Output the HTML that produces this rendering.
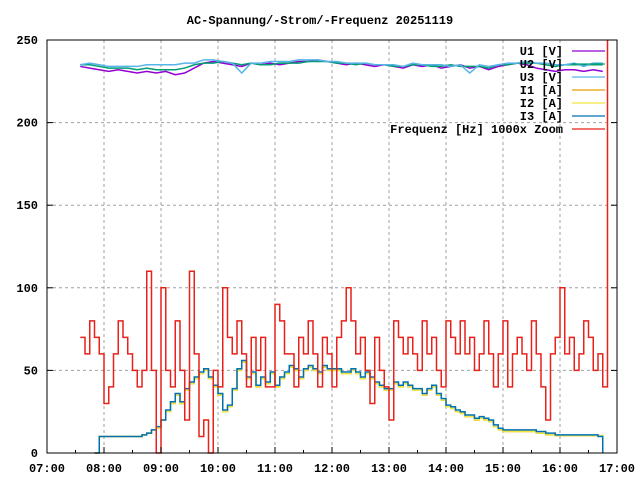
<!DOCTYPE html>
<html><head><meta charset="utf-8"><style>
html,body{margin:0;padding:0;background:#fff}
svg text{font-family:"Liberation Mono",monospace;font-size:12px;font-weight:bold;fill:#000}
</style></head><body>
<svg id="chart" width="640" height="480" viewBox="0 0 640 480">
<rect width="640" height="480" fill="#fff"/>
<text x="320" y="24" text-anchor="middle">AC-Spannung/-Strom/-Frequenz 20251119</text>
<g id="grid"></g><g id="series"></g><g id="axes"></g><g id="legend"></g>
</svg>
<script>
const xTickLabels=["07:00","08:00","09:00","10:00","11:00","12:00","13:00","14:00","15:00","16:00","17:00"];
const yTickLabels=[0,50,100,150,200,250];
// frequency (x1000 zoom), 5-minute steps starting 07:35
const freqStart=7*60+35;
const freqValues=[70,60,80,70,60,30,40,60,80,70,60,50,40,50,110,50,0,100,50,40,80,50,20,110,60,10,20,0,50,40,100,70,60,80,60,40,70,50,70,40,40,90,80,60,60,40,70,60,80,60,40,70,60,40,70,80,100,80,60,70,50,30,70,50,40,20,80,70,60,70,60,50,80,60,70,50,40,80,70,60,80,60,70,50,60,80,60,40,60,80,40,60,70,60,50,80,60,40,20,60,70,100,60,70,50,60,80,70,50,60,40,250];
// currents, 5-minute steps starting 07:50
const curStart=7*60+50;
const i1Values=[0,10,10,10,10,10,10,10,10,10,11,12,14,15,20,25,30,35,30,38,42,45,48,50,45,40,35,25,28,38,50,55,45,48,40,45,42,48,40,45,48,52,50,45,50,52,50,48,52,50,50,50,48,48,50,48,45,48,45,42,40,38,38,42,40,42,40,38,38,35,38,40,35,32,28,27,25,24,22,22,20,21,20,19,16,14,13,13,13,13,13,13,13,12,12,11,11,10.5,10.5,10.5,10.5,10.5,10.5,10.5,10.5,10.5,10.5,0];
const i2Values=i1Values.map(v=>v);
const i3Values=[0,10,10,10,10,10,10,10,10,10,11,12,14,16,20,26,31,36,31,39,43,46,49,51,46,41,36,26,29,39,51,56,46,49,41,46,43,49,41,46,49,53,51,46,51,53,51,49,53,51,51,51,49,49,51,49,46,49,46,43,41,39,39,43,41,43,41,39,39,36,39,41,36,33,29,28,26,25,23,23,21,22,21,20,17,15,14,14,14,14,14,14,14,13,13,12,12,11,11,11,11,11,11,11,11,11,10,0];
// voltages, 10-minute steps starting 07:35
const uStart=7*60+35;
const u1Values=[234,233,232,231,232,231,230,231,230,231,229,230,233,236,237,236,235,234,236,235,236,235,236,237,237,238,237,236,235,236,235,234,235,234,233,235,234,235,233,234,235,233,234,232,234,235,236,235,233,232,231,232,232,231,232,231];
const u2Values=[235,235,234,233,233,233,232,233,232,232,232,233,235,236,236,237,236,235,236,235,235,236,236,236,237,237,237,236,236,235,236,235,235,234,234,235,235,234,234,235,234,234,234,233,235,235,236,236,236,235,234,235,235,235,235,235];
const u3Values=[235,236,235,234,234,234,234,235,235,235,235,236,236,238,238,237,236,230,236,236,237,237,237,238,238,238,237,237,236,236,236,235,235,235,234,236,235,235,235,234,235,230,235,234,235,236,236,237,236,236,235,235,236,234,236,236];

const X0=47,X1=617,Y0=453,Y1=40;
const xMin=7*60,xMax=17*60,yMax=250;
const sx=m=>X0+(m-xMin)/(xMax-xMin)*(X1-X0);
const sy=v=>Y0-v/yMax*(Y0-Y1);
const NS="http://www.w3.org/2000/svg";
function mk(tag,parent){const e=document.createElementNS(NS,tag);parent.appendChild(e);return e;}
const grid=document.getElementById('grid'),axes=document.getElementById('axes'),series=document.getElementById('series'),legend=document.getElementById('legend');

xTickLabels.forEach((t,i)=>{
  const m=xMin+i*60,x=sx(m);
  if(i>0&&i<xTickLabels.length-1){
    const g=mk('line',grid);g.setAttribute('x1',x);g.setAttribute('x2',x);g.setAttribute('y1',Y1);g.setAttribute('y2',Y0);
    g.setAttribute('stroke','#a0a0a0');g.setAttribute('stroke-dasharray','3,3');
    
    
  }
  const tk=mk('line',axes);tk.setAttribute('x1',x);tk.setAttribute('x2',x);tk.setAttribute('y1',Y0);tk.setAttribute('y2',Y0-6);tk.setAttribute('stroke','#000');
  
  
  const mt=mk('line',axes);const xm=sx(m+30);
  if(i<xTickLabels.length-1){mt.setAttribute('x1',xm);mt.setAttribute('x2',xm);mt.setAttribute('y1',Y0);mt.setAttribute('y2',Y0-3);mt.setAttribute('stroke','#000');}
  
  
  const tx=mk('text',axes);tx.setAttribute('x',x);tx.setAttribute('y',472);tx.setAttribute('text-anchor','middle');tx.textContent=t;
  
  
});
yTickLabels.forEach(v=>{
  const y=sy(v);
  if(v>0&&v<yMax){
    const g=mk('line',grid);g.setAttribute('x1',X0);g.setAttribute('x2',X1);g.setAttribute('y1',y);g.setAttribute('y2',y);
    g.setAttribute('stroke','#a0a0a0');g.setAttribute('stroke-dasharray','3,3');
    
    
  }
  const tx=mk('text',axes);tx.setAttribute('x',38);tx.setAttribute('y',y+4);tx.setAttribute('text-anchor','end');tx.textContent=v;
  
  
  [[X0,X0+6],[X1,X1-6]].forEach(p=>{const l=mk('line',axes);l.setAttribute('x1',p[0]);l.setAttribute('x2',p[1]);l.setAttribute('y1',y);l.setAttribute('y2',y);l.setAttribute('stroke','#000');
    
    });
});
const fr=mk('rect',axes);fr.setAttribute('x',X0);fr.setAttribute('y',Y1);fr.setAttribute('width',X1-X0);fr.setAttribute('height',Y0-Y1);fr.setAttribute('fill','none');fr.setAttribute('stroke','#000');



function stepPath(start,step,vals){
  let d='';
  vals.forEach((v,i)=>{const x=sx(start+i*step),y=sy(v);
    if(i===0)d+='M'+x+','+y;else d+='H'+x+'V'+y;});
  return d;
}
function linePath(start,step,vals){
  return vals.map((v,i)=>(i?'L':'M')+sx(start+i*step)+','+sy(v)).join('');
}
const defs=[
  {name:'U1 [V]',c:'#9400d3',d:()=>linePath(uStart,10,u1Values),id:'series-u1'},
  {name:'U2 [V]',c:'#009e73',d:()=>linePath(uStart,10,u2Values),id:'series-u2'},
  {name:'U3 [V]',c:'#56b4e9',d:()=>linePath(uStart,10,u3Values),id:'series-u3'},
  {name:'I1 [A]',c:'#e69f00',d:()=>stepPath(curStart,5,i1Values),id:'series-i1'},
  {name:'I2 [A]',c:'#f0e442',d:()=>stepPath(curStart,5,i2Values),id:'series-i2'},
  {name:'I3 [A]',c:'#0072b2',d:()=>stepPath(curStart,5,i3Values),id:'series-i3'},
  {name:'Frequenz [Hz] 1000x Zoom',c:'#e8211a',d:()=>stepPath(freqStart,5,freqValues),id:'series-frequency'}
];
defs.forEach((s,i)=>{
  const p=mk('path',series);p.setAttribute('d',s.d());p.setAttribute('fill','none');p.setAttribute('stroke',s.c);p.setAttribute('stroke-width','1.5');
  
  
  const y=51+i*13;
  const t=mk('text',legend);t.setAttribute('x',563);t.setAttribute('y',y+4);t.setAttribute('text-anchor','end');t.textContent=s.name;
  
  
  const l=mk('line',legend);l.setAttribute('x1',572);l.setAttribute('x2',605);l.setAttribute('y1',y);l.setAttribute('y2',y);l.setAttribute('stroke',s.c);l.setAttribute('stroke-width','1.3');
  
  
});
</script>
</body></html>
